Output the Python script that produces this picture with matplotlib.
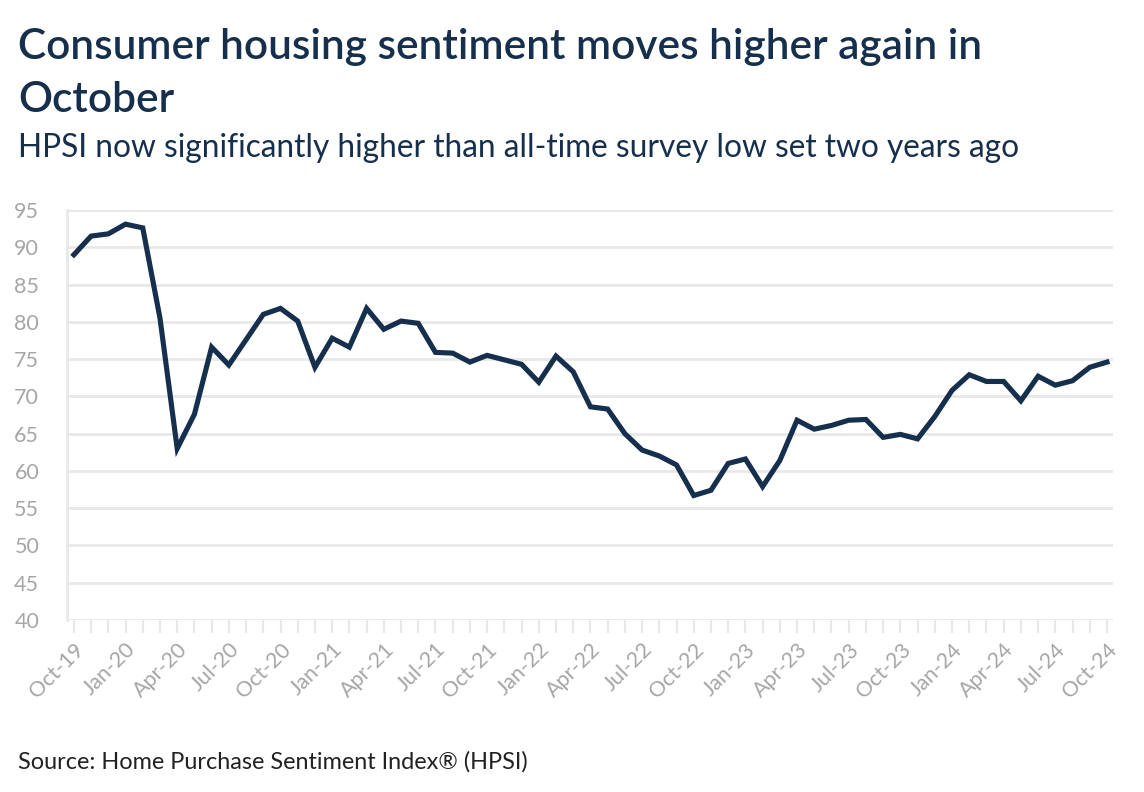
import matplotlib
matplotlib.use("Agg")
import matplotlib.pyplot as plt
import pandas as pd

months = pd.date_range("2019-10-01", "2024-10-01", freq="MS")
hpsi = [89.0, 91.5, 91.8, 93.1, 92.6, 80.5, 63.0, 67.6, 76.6, 74.2,
        77.6, 81.0, 81.8, 80.1, 73.9, 77.8, 76.6, 81.8, 79.0, 80.1,
        79.8, 75.9, 75.8, 74.6, 75.5, 74.9, 74.3, 71.9, 75.4, 73.3,
        68.6, 68.3, 65.0, 62.8, 62.0, 60.8, 56.7, 57.4, 61.0, 61.6,
        57.9, 61.4, 66.8, 65.6, 66.1, 66.8, 66.9, 64.5, 64.9, 64.3,
        67.3, 70.8, 72.9, 72.0, 72.0, 69.4, 72.7, 71.5, 72.1, 73.9,
        74.6]
labels = [d.strftime("%b-%y") for d in months]
yticks = list(range(40, 100, 5))

navy = "#152f4d"
grid = "#e8e8e8"
tickc = "#a6a6a6"
plt.rcParams['font.family'] = ['Lato', 'DejaVu Sans']

fig = plt.figure(figsize=(11.44, 7.92), dpi=100)
ax = fig.add_axes([67/1144, 1-620/792, (1113-67)/1144, (620-210)/792])
x = list(range(len(hpsi)))
ax.plot(x, hpsi, color=navy, lw=3.7, solid_joinstyle='miter', zorder=3)
ax.set_ylim(40, 95)
ax.set_xlim(-0.4, len(hpsi) - 1 + 0.35)
ax.set_yticks(yticks)
ax.set_yticklabels([str(v) for v in yticks])
ax.yaxis.grid(True, color=grid, lw=2)
ax.set_axisbelow(True)
ax.set_xticks(x)
ax.set_xticklabels([l if i % 3 == 0 else "" for i, l in enumerate(labels)],
                   rotation=45, ha='right', rotation_mode='anchor')
ax.tick_params(axis='x', length=9, width=1.6, color=grid, labelcolor=tickc,
               labelsize=15.5, pad=5)
ax.tick_params(axis='y', length=0, labelcolor=tickc, labelsize=15.5, pad=20)
for s in ['top', 'right', 'bottom']:
    ax.spines[s].set_visible(False)
ax.spines['left'].set_color(grid)
ax.spines['left'].set_linewidth(2)

fig.text(18/1144, 1-47/792, "Consumer housing sentiment moves higher again in",
         color=navy, fontsize=30.5, fontweight='semibold', va='center', ha='left')
fig.text(18/1144, 1-100/792, "October",
         color=navy, fontsize=30.5, fontweight='semibold', va='center', ha='left')
fig.text(18/1144, 1-148/792, "HPSI now significantly higher than all-time survey low set two years ago",
         color=navy, fontsize=22.8, va='center', ha='left')
fig.text(18/1144, 1-762/792, "Source: Home Purchase Sentiment Index® (HPSI)",
         color="#222222", fontsize=16.9, va='center', ha='left')

fig.savefig("out.png", dpi=100, facecolor='white')
